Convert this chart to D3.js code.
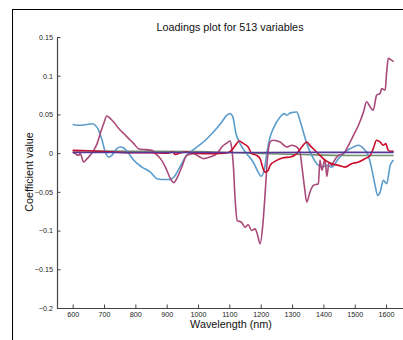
<!DOCTYPE html>
<html><head><meta charset="utf-8">
<script src="https://cdn.jsdelivr.net/npm/d3@7"></script>
<style>
html,body{margin:0;padding:0;background:#fff;}
svg{display:block;font-family:"Liberation Sans",Arial,Helvetica,sans-serif;}
</style></head>
<body>
<svg id="c" width="403" height="340"></svg>
<script>
// ---- data (wavelength nm, coefficient value) ----
const xTicks = [600,700,800,900,1000,1100,1200,1300,1400,1500,1600];
const yTicks = [-0.2,-0.15,-0.1,-0.05,0,0.05,0.1,0.15];
const yTickLabels = ["\u22120.2","\u22120.15","\u22120.1","\u22120.05","0","0.05","0.1","0.15"];

const blueSeries = [[600,0.037],[615,0.036],[630,0.036],[645,0.037],[662,0.038],[672,0.036],[683,0.0295],[694,0.0166],[704,0.0014],[715,-0.005],[725,-0.0028],[741,0.0058],[752,0.0079],[763,0.0066],[779,-0.0006],[795,-0.0093],[821,-0.018],[848,-0.0245],[869,-0.033],[885,-0.034],[906,-0.034],[916,-0.033],[927,-0.0288],[942,-0.018],[964,-0.0028],[985,0.0045],[1017,0.0144],[1049,0.0273],[1076,0.0403],[1092,0.049],[1102,0.0512],[1111,0.0468],[1121,0.0253],[1134,0.0123],[1155,-0.0006],[1176,-0.0115],[1192,-0.0245],[1201,-0.030],[1212,-0.020],[1221,0.0036],[1230,0.0209],[1240,0.0317],[1262,0.0468],[1275,0.051],[1283,0.049],[1295,0.052],[1315,0.0532],[1325,0.0425],[1336,0.0273],[1347,0.0123],[1363,-0.0028],[1379,-0.0136],[1395,-0.018],[1411,-0.0158],[1427,-0.018],[1448,-0.0071],[1469,0.0014],[1496,0.0079],[1512,0.0101],[1528,0.0058],[1543,-0.0028],[1554,-0.020],[1565,-0.0417],[1573,-0.0547],[1581,-0.0504],[1591,-0.0352],[1602,-0.0395],[1613,-0.0158],[1624,-0.009]];

const magentaSeries = [[600,0.0014],[608,-0.0006],[619,-0.0028],[624,-0.0006],[635,-0.0115],[646,-0.0071],[656,-0.0028],[667,0.0036],[678,0.0123],[688,0.0253],[699,0.0382],[709,0.048],[720,0.0447],[731,0.0403],[747,0.0317],[763,0.0253],[779,0.0188],[795,0.0123],[810,0.0058],[832,0.0045],[853,0.0036],[864,-0.0006],[880,-0.0071],[896,-0.018],[912,-0.033],[923,-0.0382],[932,-0.033],[948,-0.018],[964,-0.0028],[985,-0.0006],[1006,-0.005],[1017,-0.0071],[1038,-0.005],[1060,-0.0006],[1076,0.0079],[1092,0.0131],[1102,0.0157],[1107,0.0079],[1113,-0.018],[1118,-0.0569],[1125,-0.087],[1139,-0.0893],[1150,-0.0957],[1160,-0.0922],[1171,-0.100],[1182,-0.0978],[1189,-0.1043],[1198,-0.1172],[1206,-0.0957],[1214,-0.0525],[1221,-0.0093],[1230,0.0144],[1240,0.0166],[1262,0.0144],[1283,0.0079],[1299,0.0101],[1315,0.0079],[1325,0.0014],[1331,-0.0158],[1339,-0.0417],[1347,-0.0633],[1357,-0.0504],[1368,-0.0417],[1384,-0.0395],[1389,-0.009],[1395,-0.022],[1405,-0.008],[1411,-0.03],[1418,-0.012],[1427,-0.016],[1432,-0.0115],[1448,-0.0028],[1464,-0.0006],[1480,0.0101],[1496,0.023],[1512,0.036],[1528,0.0533],[1538,0.0663],[1549,0.0598],[1559,0.0555],[1570,0.0749],[1581,0.0771],[1586,0.0835],[1597,0.0813],[1602,0.1051],[1607,0.1224],[1616,0.1204],[1624,0.1183]];

const redSeries = [[600,0.0036],[650,0.003],[700,0.002],[750,0.001],[800,0.0005],[850,0.0005],[900,0.0],[920,0.0014],[927,-0.0016],[942,0.0001],[964,0.0014],[985,0.0001],[1017,-0.0006],[1049,-0.0006],[1092,0.0001],[1107,0.0036],[1123,0.0123],[1131,0.0157],[1145,0.0123],[1160,0.0079],[1171,-0.0006],[1187,-0.0028],[1198,-0.0071],[1206,-0.018],[1214,-0.0245],[1224,-0.022],[1230,-0.0158],[1251,-0.0093],[1272,-0.0059],[1294,-0.005],[1315,-0.0006],[1331,0.008],[1347,0.0144],[1357,0.010],[1373,0.0036],[1389,-0.0028],[1405,-0.009],[1427,-0.0136],[1448,-0.0158],[1469,-0.018],[1490,-0.0136],[1512,-0.0115],[1533,-0.0071],[1549,-0.003],[1559,0.0058],[1570,0.0166],[1581,0.0144],[1591,0.0101],[1599,0.0123],[1607,0.0036],[1618,0.0023],[1624,0.0023]];

const purpleSeries = [[600,0.0008],[800,0.0008],[1000,0.0008],[1200,0.0009],[1400,0.001],[1624,0.001]];

const greenSeries = [[600,0.003],[800,0.0025],[1000,0.002],[1100,0.0008],[1200,-0.0005],[1300,-0.0015],[1400,-0.0025],[1500,-0.003],[1624,-0.003]];

const seriesList = [
  {data: greenSeries,   color: "#72906e"},
  {data: blueSeries,    color: "#5b9ccc"},
  {data: magentaSeries, color: "#a9497a"},
  {data: redSeries,     color: "#cc0a2a"},
  {data: purpleSeries,  color: "#55389a"}
];

// ---- drawing ----
const svg = d3.select("#c");
const x = d3.scaleLinear().domain([550,1654]).range([57,403]);
const y = d3.scaleLinear().domain([-0.2,0.15]).range([308,37]);

// figure frame
svg.append("rect").attr("x",12.5).attr("y",9.5).attr("width",420).attr("height",360)
  .attr("fill","none").attr("stroke","#000").attr("stroke-width",1);

const line = d3.line().x(d=>x(d[0])).y(d=>y(d[1])).curve(d3.curveMonotoneX);
const g = svg.append("g");
seriesList.forEach(s=>{
  g.append("path").datum(s.data).attr("d",line).attr("fill","none")
   .attr("stroke",s.color).attr("stroke-width",1.6).attr("stroke-linejoin","round");
});

// axes
const xAxis = d3.axisBottom(x).tickValues(xTicks).tickFormat(d3.format("d"))
  .tickSizeInner(-3.5).tickSizeOuter(0).tickPadding(4);
const yAxis = d3.axisLeft(y).tickValues(yTicks).tickFormat((d,i)=>yTickLabels[i])
  .tickSizeInner(-3.5).tickSizeOuter(0).tickPadding(4);

const gx = svg.append("g").attr("transform","translate(0,308)").call(xAxis);
const gy = svg.append("g").attr("transform","translate(57,0)").call(yAxis);
[gx,gy].forEach(a=>{
  a.select(".domain").attr("stroke","#444").attr("stroke-width",1.2);
  a.selectAll(".tick line").attr("stroke","#444").attr("stroke-width",1);
  a.selectAll(".tick text").attr("fill","#222").style("font-size","7.2px")
   .style("font-family","'Liberation Sans',Arial,sans-serif");
});

// labels
svg.append("text").attr("x",230).attr("y",30.5).attr("text-anchor","middle")
  .style("font-size","10.8px").attr("fill","#111").text("Loadings plot for 513 variables");
svg.append("text").attr("x",231).attr("y",328).attr("text-anchor","middle")
  .style("font-size","10.8px").attr("fill","#111").text("Wavelength (nm)");
svg.append("text").attr("transform","translate(32.5,172) rotate(-90)").attr("text-anchor","middle")
  .style("font-size","10.8px").attr("fill","#111").text("Coefficient value");
</script>
</body></html>
